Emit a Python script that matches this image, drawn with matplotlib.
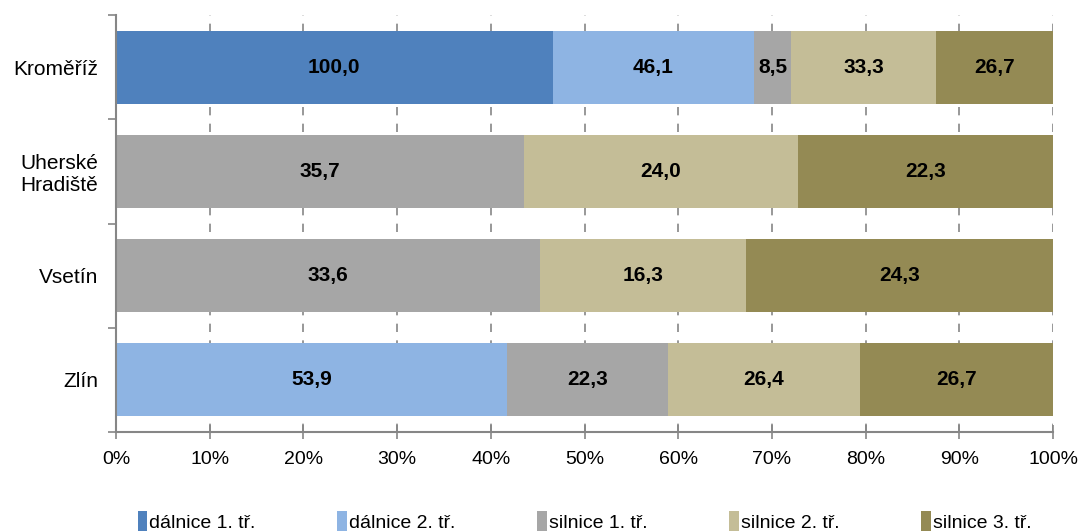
import matplotlib.pyplot as plt
import numpy as np

plt.rcParams["font.family"] = ["Liberation Sans", "DejaVu Sans"]

# okresy (shora dolů) a hodnoty jednotlivých tříd komunikací
districts = ["Kroměříž", "Uherské\nHradiště", "Vsetín", "Zlín"]
series_names = ["dálnice 1. tř.", "dálnice 2. tř.", "silnice 1. tř.",
                "silnice 2. tř.", "silnice 3. tř."]
dalnice_1 = [100.0, 0.0, 0.0, 0.0]
dalnice_2 = [46.1, 0.0, 0.0, 53.9]
silnice_1 = [8.5, 35.7, 33.6, 22.3]
silnice_2 = [33.3, 24.0, 16.3, 26.4]
silnice_3 = [26.7, 22.3, 24.3, 26.7]
colors = ["#4f81bd", "#8eb4e3", "#a6a6a6", "#c4bd97", "#948a54"]
x_ticks = np.arange(0, 101, 10)

values = np.array([dalnice_1, dalnice_2, silnice_1, silnice_2, silnice_3])
shares = values / values.sum(axis=0) * 100.0

fig = plt.figure(figsize=(10.82, 5.32), dpi=100)
ax = fig.add_axes([116 / 1082, 1 - 432 / 532, (1053 - 116) / 1082, (432 - 15) / 532])

y = np.arange(len(districts))
left = np.zeros(len(districts))
for k in range(len(series_names)):
    ax.barh(y, shares[k], left=left, height=0.7, color=colors[k],
            label=series_names[k], zorder=2)
    for i in range(len(districts)):
        if values[k, i] > 0:
            ax.text(left[i] + shares[k, i] / 2, y[i], f"{values[k, i]:.1f}".replace(".", ","),
                    ha="center", va="center", fontsize=15, fontweight="bold", zorder=3)
    left += shares[k]

ax.set_xlim(0, 100)
ax.set_ylim(len(districts) - 0.5, -0.5)
ax.set_xticks(x_ticks)
ax.set_xticklabels([f"{t}%" for t in x_ticks], fontsize=14)
ax.set_yticks(y)
ax.set_yticklabels(districts, fontsize=15)
ax.set_yticks(np.arange(-0.5, len(districts), 1), minor=True)
ax.tick_params(axis="y", which="major", length=0, pad=13)
ax.tick_params(axis="y", which="minor", length=6, color="#868686", width=1.2)
ax.tick_params(axis="x", direction="inout", length=10, color="#868686", width=1.2, pad=9)

ax.grid(axis="x", color="#868686", linestyle=(0, (5, 5)), linewidth=1.2, zorder=0)
for side in ["top", "right"]:
    ax.spines[side].set_visible(False)
for side in ["left", "bottom"]:
    ax.spines[side].set_color("#868686")
    ax.spines[side].set_linewidth(1.5)

ax.legend(loc="center", bbox_to_anchor=(0.5, -0.215), ncol=5, frameon=False,
          fontsize=14, handlelength=0.5, handleheight=1.2, handletextpad=0.1,
          columnspacing=4.2)

fig.savefig("out.png", dpi=100)
